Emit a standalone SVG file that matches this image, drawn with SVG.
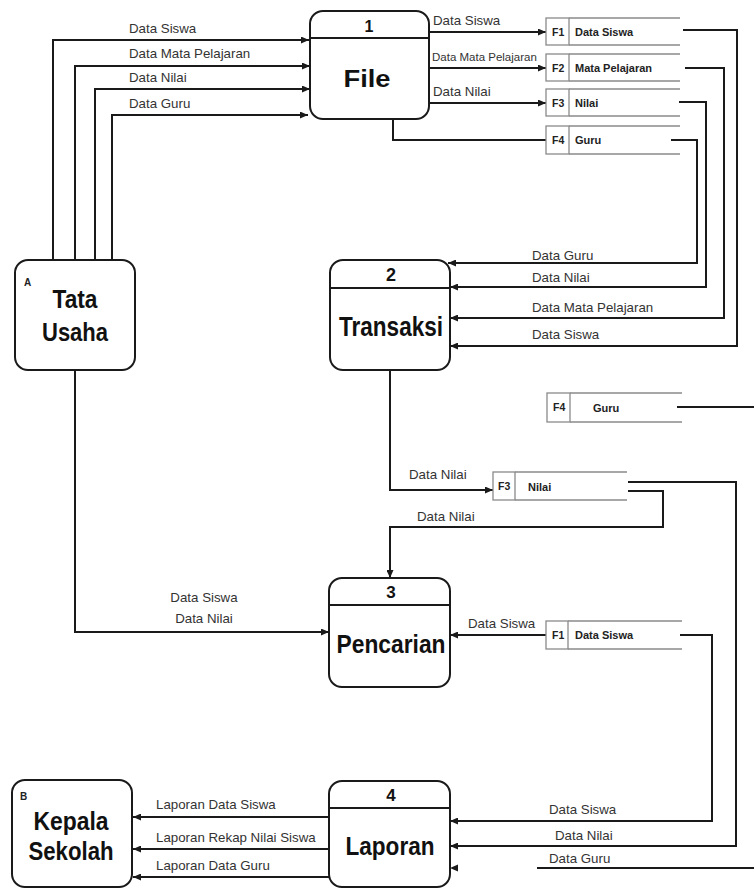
<svg xmlns="http://www.w3.org/2000/svg" width="754" height="889" viewBox="0 0 754 889">
<style>
.box{fill:#fff;stroke:#1a1a1a;stroke-width:2}
.div{stroke:#1a1a1a;stroke-width:2}
.ln{fill:none;stroke:#1a1a1a;stroke-width:2}
.arr{fill:none;stroke:#1a1a1a;stroke-width:2;marker-end:url(#ah)}
.st{fill:none;stroke:#8a8a8a;stroke-width:1.3}
.lbl{font-family:"Liberation Sans",Arial,sans-serif;font-size:13.3px;fill:#333}
.lbls{font-family:"Liberation Sans",Arial,sans-serif;font-size:11.5px;fill:#333}
.ttl{font-family:"Liberation Sans",Arial,sans-serif;font-weight:bold;fill:#111;text-anchor:middle}
.num{font-family:"Liberation Sans",Arial,sans-serif;font-weight:bold;fill:#111;text-anchor:middle}
.sid{font-family:"Liberation Sans",Arial,sans-serif;font-weight:bold;font-size:10.5px;fill:#222}
.snm{font-family:"Liberation Sans",Arial,sans-serif;font-weight:bold;font-size:11px;fill:#222}
.ent{font-family:"Liberation Sans",Arial,sans-serif;font-weight:bold;font-size:10px;fill:#222}
</style>
<defs>
<marker id="ah" markerUnits="userSpaceOnUse" markerWidth="8" markerHeight="7" refX="8" refY="3.5" orient="auto">
<path d="M0,0 L8,3.5 L0,7 z" fill="#1a1a1a"/>
</marker>
</defs>
<rect width="754" height="889" fill="#fff"/>

<g id="connectors">
<!-- Tata Usaha to File -->
<path class="arr" d="M53,260 V40 H309"/>
<path class="arr" d="M75,260 V66 H310"/>
<path class="arr" d="M95,260 V89 H310"/>
<path class="arr" d="M112,260 V115 H308"/>
<!-- File to stores -->
<path class="arr" d="M429,32 H546"/>
<path class="arr" d="M429,68 H546"/>
<path class="arr" d="M429,103 H546"/>
<path class="ln" d="M393,119 V140 H546"/>
<!-- stores to Transaksi -->
<path class="arr" d="M683,30 H737 V346 H450"/>
<path class="arr" d="M685,68 H724 V318 H450"/>
<path class="arr" d="M679,102 H706 V287 H450"/>
<path class="arr" d="M671,140 H697 V263 H448"/>
<!-- Transaksi to F3 -->
<path class="arr" d="M390,370 V490 H493"/>
<!-- F3 to Pencarian -->
<path class="arr" d="M628,491 H663 V527 H390 V578"/>
<!-- F3 to Laporan -->
<path class="arr" d="M628,482 H736 V846 H450"/>
<!-- F4 Guru -->
<path class="ln" d="M677,407 H754"/>
<path class="ln" d="M537,868 H754"/>
<path d="M450,868 L458,864.5 L458,871.5 z" fill="#1a1a1a"/>
<!-- Tata Usaha to Pencarian -->
<path class="arr" d="M75,370 V632 H329"/>
<!-- F1 to Pencarian -->
<path class="arr" d="M546,635 H450"/>
<!-- F1 to Laporan -->
<path class="arr" d="M680,635 H712 V821 H450"/>
<!-- Laporan to Kepala Sekolah -->
<path class="arr" d="M329,817 H133"/>
<path class="arr" d="M329,849 H133"/>
<path class="arr" d="M329,877 H133"/>

<!-- labels -->
<text class="lbl" x="129" y="33">Data Siswa</text>
<text class="lbl" x="129" y="58">Data Mata Pelajaran</text>
<text class="lbl" x="129" y="82">Data Nilai</text>
<text class="lbl" x="129" y="108">Data Guru</text>
<text class="lbl" x="433" y="25">Data Siswa</text>
<text class="lbls" x="432" y="61">Data Mata Pelajaran</text>
<text class="lbl" x="433" y="96">Data Nilai</text>
<text class="lbl" x="532" y="260">Data Guru</text>
<text class="lbl" x="532" y="282">Data Nilai</text>
<text class="lbl" x="532" y="312">Data Mata Pelajaran</text>
<text class="lbl" x="532" y="339">Data Siswa</text>
<text class="lbl" x="409" y="479">Data Nilai</text>
<text class="lbl" x="417" y="521">Data Nilai</text>
<text class="lbl" x="204" y="602" text-anchor="middle">Data Siswa</text>
<text class="lbl" x="204" y="623" text-anchor="middle">Data Nilai</text>
<text class="lbl" x="468" y="628">Data Siswa</text>
<text class="lbl" x="156" y="809">Laporan Data Siswa</text>
<text class="lbl" x="156" y="842">Laporan Rekap Nilai Siswa</text>
<text class="lbl" x="156" y="870">Laporan Data Guru</text>
<text class="lbl" x="549" y="814">Data Siswa</text>
<text class="lbl" x="555" y="840">Data Nilai</text>
<text class="lbl" x="549" y="863">Data Guru</text>
</g>

<g id="tata-usaha">
<rect class="box" x="15" y="260" width="120" height="110" rx="13"/>
<text class="ent" x="24" y="286">A</text>
<text class="ttl" x="75" y="308" font-size="25" textLength="45" lengthAdjust="spacingAndGlyphs">Tata</text>
<text class="ttl" x="75" y="341" font-size="25" textLength="66" lengthAdjust="spacingAndGlyphs">Usaha</text>
</g>

<g id="kepala-sekolah">
<rect class="box" x="12" y="780" width="120" height="107" rx="13"/>
<text class="ent" x="20" y="800">B</text>
<text class="ttl" x="71" y="830" font-size="25" textLength="75" lengthAdjust="spacingAndGlyphs">Kepala</text>
<text class="ttl" x="71" y="860" font-size="25" textLength="85" lengthAdjust="spacingAndGlyphs">Sekolah</text>
</g>

<g id="p1-file">
<rect class="box" x="310" y="11" width="119" height="108" rx="13"/>
<line class="div" x1="310" y1="38" x2="429" y2="38"/>
<text class="num" x="369" y="32" font-size="16">1</text>
<text class="ttl" x="367" y="87" font-size="24" textLength="47" lengthAdjust="spacingAndGlyphs">File</text>
</g>

<g id="p2-transaksi">
<rect class="box" x="330" y="260" width="120" height="110" rx="13"/>
<line class="div" x1="330" y1="288" x2="450" y2="288"/>
<text class="num" x="391" y="281" font-size="18">2</text>
<text class="ttl" x="391" y="336" font-size="27" textLength="104" lengthAdjust="spacingAndGlyphs">Transaksi</text>
</g>

<g id="p3-pencarian">
<rect class="box" x="329" y="578" width="121" height="109" rx="13"/>
<line class="div" x1="329" y1="605" x2="450" y2="605"/>
<text class="num" x="391" y="598" font-size="17">3</text>
<text class="ttl" x="391" y="653" font-size="26" textLength="109" lengthAdjust="spacingAndGlyphs">Pencarian</text>
</g>

<g id="p4-laporan">
<rect class="box" x="329" y="781" width="121" height="106" rx="13"/>
<line class="div" x1="329" y1="808" x2="450" y2="808"/>
<text class="num" x="391" y="801" font-size="17">4</text>
<text class="ttl" x="390" y="855" font-size="25" textLength="89" lengthAdjust="spacingAndGlyphs">Laporan</text>
</g>

<g id="store-f1-top">
<rect class="st" x="546" y="18" width="23" height="27"/>
<path class="st" d="M569,18 H680 M569,45 H680"/>
<text class="sid" x="552" y="36">F1</text>
<text class="snm" x="575" y="36">Data Siswa</text>
</g>
<g id="store-f2-top">
<rect class="st" x="546" y="54" width="23" height="27"/>
<path class="st" d="M569,54 H680 M569,81 H680"/>
<text class="sid" x="552" y="72">F2</text>
<text class="snm" x="575" y="72">Mata Pelajaran</text>
</g>
<g id="store-f3-top">
<rect class="st" x="546" y="89" width="23" height="27"/>
<path class="st" d="M569,89 H680 M569,116 H680"/>
<text class="sid" x="552" y="107">F3</text>
<text class="snm" x="575" y="107">Nilai</text>
</g>
<g id="store-f4-top">
<rect class="st" x="546" y="126" width="23" height="28"/>
<path class="st" d="M569,126 H680 M569,154 H680"/>
<text class="sid" x="552" y="144">F4</text>
<text class="snm" x="575" y="144">Guru</text>
</g>
<g id="store-f4-lower">
<rect class="st" x="547" y="393" width="23" height="29"/>
<path class="st" d="M570,393 H682 M570,422 H682"/>
<text class="sid" x="553" y="411">F4</text>
<text class="snm" x="593" y="412">Guru</text>
</g>
<g id="store-f3-lower">
<rect class="st" x="493" y="472" width="22" height="28"/>
<path class="st" d="M515,472 H627 M515,500 H627"/>
<text class="sid" x="498" y="490">F3</text>
<text class="snm" x="528" y="491">Nilai</text>
</g>
<g id="store-f1-lower">
<rect class="st" x="546" y="621" width="22" height="28"/>
<path class="st" d="M568,621 H682 M568,649 H682"/>
<text class="sid" x="552" y="639">F1</text>
<text class="snm" x="575" y="639">Data Siswa</text>
</g>
</svg>
